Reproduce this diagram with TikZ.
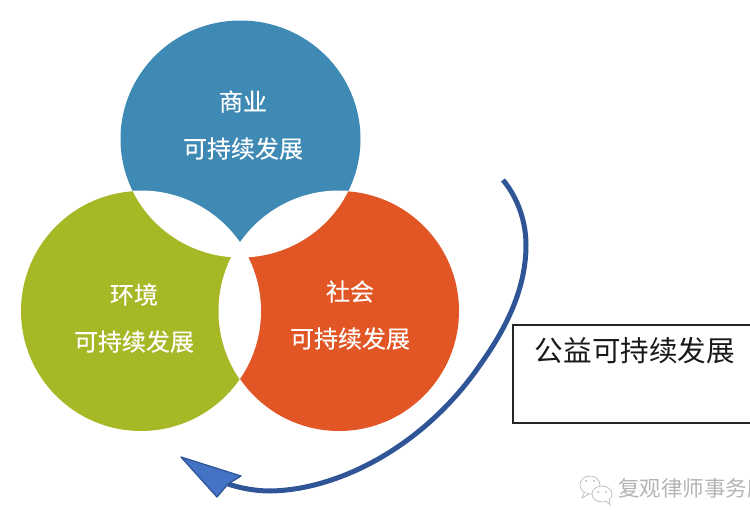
\documentclass[tikz,border=0pt]{standalone}
\usepackage{fontspec}
\usetikzlibrary{shapes.geometric}
\setmainfont{Noto Sans CJK SC}[AutoFakeBold=0.25]
\newfontfamily\plaincjk{Noto Sans CJK SC}
\newcommand{\bigcjk}{\fontsize{24}{47}\selectfont\bfseries}
\begin{document}
\begin{tikzpicture}[x=1pt,y=-1pt,
  disc/.style={circle,minimum size=240pt,inner sep=0pt,outer sep=0pt,fill=#1},
  topdisc/.style={ellipse,minimum width=240pt,minimum height=237pt,inner sep=0pt,outer sep=0pt,fill=#1},
  disclabel/.style={text=white,font=\bigcjk,align=center,inner sep=0pt},
  sweep/.style={draw=arrowdark,line width=5pt},
  bubble/.style={draw=wmgray,line width=0.6pt,fill=white}]
\definecolor{topblue}{HTML}{3F8AB5}
\definecolor{leftolive}{HTML}{A7B826}
\definecolor{rightorange}{HTML}{E25626}
\definecolor{arrowdark}{HTML}{2F5597}
\definecolor{arrowfill}{HTML}{4472C4}
\definecolor{wmgray}{HTML}{B4B4B4}
\useasboundingbox (0,0) rectangle (750,525);
% circles
\node[topdisc=topblue] (top) at (240.5,139) {};
\node[disc=leftolive] (left) at (141,311) {};
\node[disc=rightorange] (right) at (339,311) {};
% white overlaps
\begin{scope}
  \clip (top.center) ellipse[x radius=120pt,y radius=118.5pt];
  \fill[white] (left.center) circle[radius=120.5pt];
  \fill[white] (right.center) circle[radius=120.5pt];
\end{scope}
\begin{scope}
  \clip (left.center) circle[radius=120pt];
  \fill[white] (right.center) circle[radius=120.5pt];
\end{scope}
% labels
\node[disclabel] (toptext) at (243,125) {商业\\可持续发展};
\node[disclabel] (lefttext) at (134,318) {环境\\可持续发展};
\node[disclabel] (righttext) at (350,315) {社会\\可持续发展};
% sweep arrow
\coordinate (sweepstart) at (503,180);
\coordinate (sweepend) at (228,484);
\coordinate (tipa) at (181,457);
\coordinate (tipb) at (241,476);
\coordinate (tipc) at (217,497);
\draw[sweep] (sweepstart) .. controls (518,198) and (526,222) .. (526,245)
  .. controls (526,290) and (505,330) .. (480,365)
  .. controls (425,445) and (340,490) .. (270,491)
  .. controls (255,491) and (240,488) .. (sweepend);
\draw[draw=arrowdark,fill=arrowfill,line width=1.3pt,line join=round] (tipa) -- (tipb) -- (sweepend) -- (tipc) -- cycle;
% text box
\node[draw=black!85,line width=1.3pt,minimum width=250pt,minimum height=98pt,inner sep=0pt,outer sep=0pt,anchor=north west] (box) at (513,325) {};
\node[font=\plaincjk\fontsize{28.6}{30}\selectfont,inner sep=0pt,text=black!90] (boxtext) at (635,351) {公益可持续发展};
% watermark
\begin{scope}
\draw[bubble] (590,485) ellipse[x radius=10pt,y radius=9pt];
\draw[bubble] (584,493) -- (582,498) -- (589,494);
\draw[bubble] (602,494) ellipse[x radius=10pt,y radius=8pt];
\draw[bubble] (606,501) -- (610,505) -- (609,499);
\fill[wmgray] (586,481) circle[radius=1pt] (594,481) circle[radius=1pt] (598,492) circle[radius=1pt] (606,492) circle[radius=1pt];
\end{scope}
\node[anchor=west,inner sep=0pt,text=wmgray,font=\plaincjk\fontsize{21.5}{24}\selectfont] (mark) at (618,488) {复观律师事务所};
\end{tikzpicture}
\end{document}
